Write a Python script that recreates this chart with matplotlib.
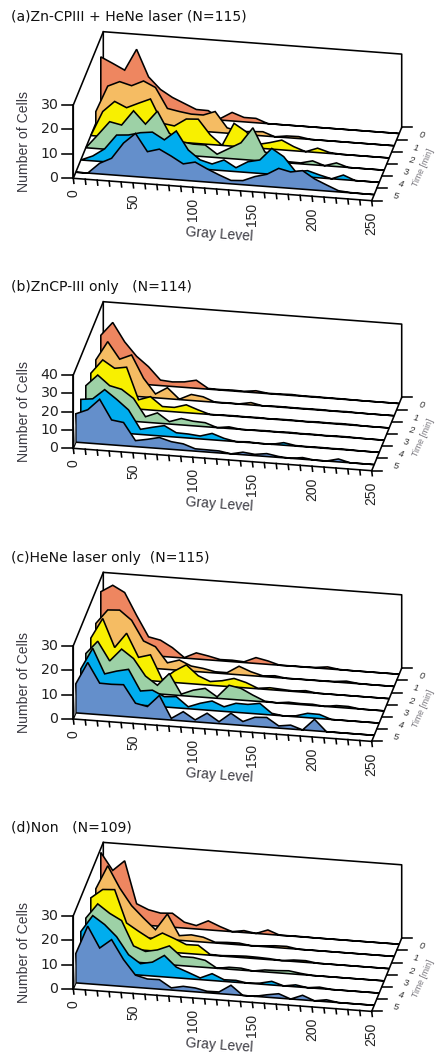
import matplotlib
matplotlib.use("Agg")
import matplotlib.pyplot as plt
import numpy as np

plt.rcParams['font.family'] = ['Liberation Sans', 'DejaVu Sans']

gray_levels = list(range(0, 260, 10))
times = [0, 1, 2, 3, 4, 5]
colors = {0: '#EE8660', 1: '#F5BC63', 2: '#F8F000', 3: '#9DD1A6', 4: '#00ADEE', 5: '#648FCB'}

# Panel (a)
a_t0 = [22.2,19.9,17.5,26.4,15.5,10.7,7.8,5.7,3.6,3.5,0.6,3.5,1.8,1.8,0,0,0,0,0,0,0,0,0,0,0,0]
a_t1 = [4.8,15.6,17.8,16.5,18.8,16.5,8.3,7.4,6.7,6.7,8.5,2.2,1.0,1.4,1.7,0,0.7,0.8,0,0,0,0,0,0,0,0]
a_t2 = [0,10.2,14.7,12.5,14.7,16.8,7.2,6.5,9.7,10,4,0,9.4,6.4,1.5,2.6,4,1.7,0,1.8,0.4,0,0,0,0,0]
a_t3 = [0,5.6,11.4,10.4,16.6,11.5,17.2,8.5,5.4,4.8,4.8,1.4,4.1,6.8,13.3,3.8,2.2,0.5,0.4,1.6,0,1.5,0,0,0,0]
a_t4 = [0,2,5.3,11.3,11.7,13,13.6,10.8,14.8,7.4,3.7,2.4,4.4,1.6,4.4,5.5,10.6,7.6,1.8,2.6,1.2,0,1.9,0,0,0]
a_t5 = [0,0,4.4,6.8,13.4,17.7,10.6,12,9.5,6.7,7.8,5.4,3.3,1.4,1.7,3.7,5,7.8,6.7,7.6,4.6,2.5,0.5,0.1,0,0]
# Panel (b)
b_t0 = [25,32.5,22.4,15,9.8,3,2.5,3,4.4,0.4,0.3,0.5,0.3,1.1,0.2,0.3,0.5,0.2,0.3,0.2,0.2,0.1,0,0,0,0]
b_t1 = [18.2,28.7,19.6,22.4,10.2,2.1,6,0.2,3.3,2.5,0,0.2,0.1,1.3,0,0.3,0.3,0.2,0.3,0.3,0.1,0.3,0.1,0,0,0]
b_t2 = [17.6,25.4,21.3,22.4,5.1,7.3,2.4,2.4,4.3,2,0,0.2,0.3,0.2,0.3,0.1,0.3,0.3,0.1,0.4,0.2,0.4,0.3,0,0,0]
b_t3 = [17.5,23.8,18.5,17,12.5,3,5.6,1.3,3.5,2.5,2.2,0,0.9,0,0.1,0.3,0.2,0.4,0.2,0.3,0.1,0.3,0.3,0.1,0,0]
b_t4 = [16.7,17.5,23,18.2,12.9,2.8,4.4,5.8,2.4,2.2,1.6,3.5,1.3,0,0.4,0,0,1.4,0.3,0.2,0.3,0.2,0.3,0.1,0,0]
b_t5 = [15.5,18.2,24.4,13.6,12.7,3.3,4.5,6,4.2,3.5,1.3,1.2,1.1,0,1.4,0.7,1.6,0.5,0,0.9,0,0,1.6,0,0,0]
# Panel (c)
c_t0 = [24.6,27.6,25,16,7.6,6.6,3.9,0.2,2.5,1.6,0.5,0.6,0.3,2.4,1.4,0,0.1,0.1,0.2,0.8,0.1,0,0,0,0,0]
c_t1 = [16.6,22.5,22.8,19,10.9,8.9,2.7,4.2,2.1,1.5,0.5,0.5,3.5,1.6,0.3,0.7,0,0.1,0.1,0.1,0.2,0.7,0.1,0,0,0]
c_t2 = [15.6,24,12.5,18.7,9.2,10.6,0.7,4.7,7.6,3.5,1.5,2.2,3.5,2.2,0.2,0.8,0.5,0.2,0.7,0,0,0,0,0,0,0]
c_t3 = [14.3,19.7,12,17.2,13.7,6.9,3.5,8.7,0.6,2.6,3.7,0.6,5.7,4.8,2.4,0.3,0,0.6,0.4,0.5,0,0.7,0.7,0,0,0]
c_t4 = [13,21.8,11.7,13.2,14.3,5.8,6.5,4.2,4.6,0.8,2.6,3.9,1.9,3.7,3.6,4.4,0.7,0,0.4,1.8,1.7,0,0,0,0,0]
c_t5 = [11.9,21,12.9,12.8,13,5.8,4.8,9.7,0.7,3.8,0.8,3.9,0.8,4.6,1.6,3.7,4,0.9,1.6,0,4.7,0,0,0,0,0]
# Panel (d)
d_t0 = [28.4,21.4,25.7,8.5,6.4,5.4,5.7,2.4,1.4,3.7,1.7,0,0.8,0,1.8,0,0.1,0.1,0,0,0,0,0,0,0,0]
d_t1 = [18.5,28.3,19.6,12.7,8,3.6,10.4,1.9,2.6,2,0.3,0.6,0.7,0,0.3,0.7,0.8,0,0,0,0,0,0,0,0,0]
d_t2 = [19.8,23.6,23.9,10.6,7.6,4.8,7.6,5.7,3.6,3.7,0.3,0.2,0.5,0.7,0.6,0.4,0,0.6,0.7,0,0,0,0,0,0,0]
d_t3 = [16.5,22.7,19.2,16.6,6.6,4.7,5.7,7.7,3.7,3.7,2.9,0,0.8,0.8,0,0.8,0.9,1.2,0.5,0,0,0,0,0,0,0]
d_t4 = [16,22.9,19.6,15,8,4.7,5.7,8.8,4.4,2.6,0.7,2.8,0.7,0.8,0,0.4,1.5,0,0.8,0,0.6,0,0,0,0,0]
d_t5 = [12,23.6,15,18.8,11,5,3.8,3.9,0.9,1.9,1.6,0.6,0.7,3.8,0,0,1,1.8,0,1.9,0,0.8,0,0,0,0]

titles = ['(a)Zn-CPIII + HeNe laser (N=115)', '(b)ZnCP-III only   (N=114)',
          '(c)HeNe laser only  (N=115)', '(d)Non   (N=109)']
panel_data = [[a_t0, a_t1, a_t2, a_t3, a_t4, a_t5],
              [b_t0, b_t1, b_t2, b_t3, b_t4, b_t5],
              [c_t0, c_t1, c_t2, c_t3, c_t4, c_t5],
              [d_t0, d_t1, d_t2, d_t3, d_t4, d_t5]]
count_ticks = [[0, 10, 20, 30], [0, 10, 20, 30, 40], [0, 10, 20, 30], [0, 10, 20, 30]]
gray_ticks = [0, 50, 100, 150, 200, 250]

panel_dy = [0, 270, 540.7, 810.7]
W, H = 436, 1054
OX, OY = 73.3, 178.3
EX, EY = 298.4, 22.4      # gray axis vector
DX, DY = 30.0, -73.3      # depth vector
VH = 73.3                 # height of the count axis
BLK = '#000000'
TXT = '#3b3a42'
LW = 1.15

fig = plt.figure(figsize=(W / 100, H / 100), dpi=100)
ax = fig.add_axes([0, 0, 1, 1])
ax.set_xlim(0, W)
ax.set_ylim(H, 0)
ax.axis('off')


def proj(x, depth, v, vmax, dy):
    x = np.asarray(x, float)
    depth = np.asarray(depth, float)
    v = np.asarray(v, float)
    px = OX + x / 250 * EX + depth * DX
    py = OY + dy + x / 250 * EY + depth * DY - v / vmax * VH
    return px, py


for title, series, cticks, dy in zip(titles, panel_data, count_ticks, panel_dy):
    vmax = cticks[-1]
    ax.text(11, 17 + dy, title, fontsize=10.1, family='DejaVu Sans', color='#111111', va='center', ha='left')

    # back wall and side wall
    bx, by = proj([0, 250, 250, 0], 1, [0, 0, vmax, vmax], vmax, dy)
    ax.fill(bx, by, facecolor='white', edgecolor='none', zorder=1)
    ax.plot(bx[[0, 3, 2, 1]], by[[0, 3, 2, 1]], color=BLK, lw=LW, zorder=2, solid_capstyle='projecting')
    sx, sy = proj([0, 0, 0], [0, 0, 1], [0, vmax, vmax], vmax, dy)
    ax.plot(sx, sy, color=BLK, lw=LW, zorder=2)
    fx, fy = proj([0, 0], [0, 1], [0, 0], vmax, dy)
    ax.plot(fx, fy, color=BLK, lw=LW, zorder=2)

    # one ribbon per time point, back to front
    z = 3
    for t, vals in zip(times, series):
        depth = (5 - t + 0.5) / 6
        px, py = proj(gray_levels, depth, vals, vmax, dy)
        b0x, b0y = proj([0], depth, [0], vmax, dy)
        b1x, b1y = proj([250], depth, [0], vmax, dy)
        xs = np.r_[b0x, px, b1x]
        ys = np.r_[b0y, py, b1y]
        ax.fill(xs, ys, facecolor=colors[t], edgecolor=BLK, lw=LW, zorder=z, joinstyle='miter')
        if t == 5 and vals[0] > 0:
            gx = [OX + 0.3, b0x[0], b0x[0]]
            gy = [OY + dy - 2, py[0], b0y[0]]
            ax.fill(gx, gy, facecolor='#77797d', edgecolor='none', zorder=z + 0.5)
        z += 1

    # floor edges on top
    lx, ly = proj([250, 250], [0, 1], [0, 0], vmax, dy)
    ax.plot(lx, ly, color=BLK, lw=LW, zorder=20)
    ex, ey = proj([0, 250], 0, [0, 0], vmax, dy)
    ax.plot(ex, ey, color=BLK, lw=LW, zorder=20)
    ax.plot(fx[:1].repeat(2), [OY + dy, OY + dy - VH], color=BLK, lw=LW, zorder=20)

    # count axis
    for c in cticks:
        ty = OY + dy - c / vmax * VH
        ax.plot([OX - 11, OX], [ty, ty], color=BLK, lw=LW, zorder=20)
        ax.text(OX - 15, ty, str(c), ha='right', va='center', fontsize=10.2, family='DejaVu Sans', color='#222222')
    ax.text(24, 142 + dy, 'Number of Cells', rotation=90, ha='center', va='center',
            fontsize=10.1, color=TXT)

    # gray axis
    for g in range(0, 260, 10):
        tx, ty = proj(g, 0, 0, vmax, dy)
        ax.plot([tx, tx + 0.6], [ty, ty + 5], color=BLK, lw=LW, zorder=20)
    for g in gray_ticks:
        tx, ty = proj(g, 0, 0, vmax, dy)
        ax.text(tx, ty + 11, str(g), rotation=90, ha='center', va='top', fontsize=10, color='#222222')
    ax.text(219, 234.3 + dy, 'Gray Level', rotation=-4, rotation_mode='anchor', ha='center', va='center',
            fontsize=10, color=TXT)

    # time axis
    for k in range(7):
        tx, ty = proj(250, k / 6, 0, vmax, dy)
        ax.plot([tx, tx + 10.5], [ty, ty], color=BLK, lw=LW, zorder=20)
    for t in times:
        tx, ty = proj(250, (5 - t + 0.5) / 6, 0, vmax, dy)
        ax.text(tx + 22, ty + 2, str(t), rotation=-12, style='italic', ha='center', va='center',
                fontsize=6.8, color='#333333')
    ax.text(423.5, 168 + dy, 'Time [min]', rotation=66, ha='center', va='center',
            fontsize=6.2, color='#77757c')

fig.savefig('out.png', dpi=100)
